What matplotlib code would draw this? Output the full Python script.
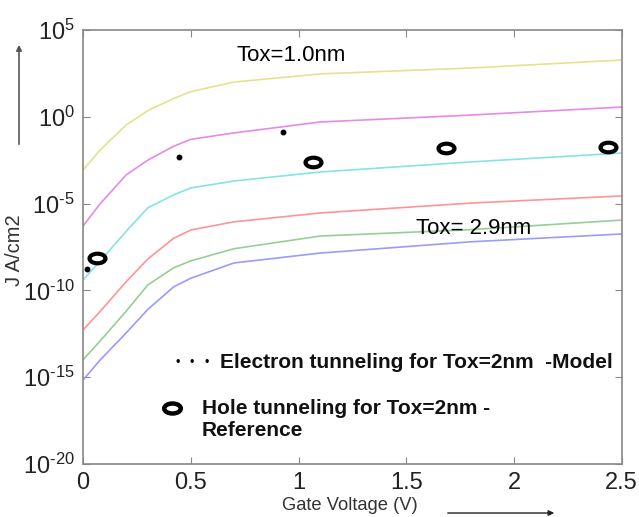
import numpy as np
import matplotlib
matplotlib.use("Agg")
import matplotlib.pyplot as plt
from matplotlib.path import Path
from matplotlib.transforms import Affine2D

plt.rcParams['font.family'] = ['Liberation Sans', 'DejaVu Sans']
plt.rcParams['mathtext.fontset'] = 'custom'
plt.rcParams['mathtext.rm'] = 'Liberation Sans'
plt.rcParams['mathtext.it'] = 'Liberation Sans'

## Gate voltage grid for the model curves
V = [0.0, 0.08, 0.2, 0.3, 0.42, 0.5, 0.7, 1.1, 1.8, 2.5]

## log10(J), one list per oxide thickness
logJ_10 = [-3.06, -1.9, -0.47, 0.35, 1.05, 1.45, 2.0, 2.47, 2.81, 3.27]
logJ_15 = [-6.29, -5.0, -3.35, -2.5, -1.7, -1.3, -0.93, -0.30, 0.10, 0.56]
logJ_20 = [-9.4, -8.3, -6.6, -5.25, -4.5, -4.1, -3.7, -3.18, -2.6, -2.09]
logJ_24 = [-12.28, -11.2, -9.5, -8.2, -7.0, -6.52, -6.05, -5.54, -4.97, -4.56]
logJ_27 = [-14.0, -12.9, -11.2, -9.69, -8.7, -8.3, -7.6, -6.87, -6.5, -5.95]
logJ_29 = [-15.16, -14.0, -12.45, -11.1, -9.8, -9.3, -8.42, -7.85, -7.2, -6.75]

curve_colors = ['#e3e38c', '#e58ae8', '#86e3e3', '#ff9494', '#95cf95', '#9a9aff']

## Tox = 2nm points
elec_V = [0.018, 0.445, 0.927]
elec_logJ = [-8.77, -2.32, -0.87]
hole_V = [0.065, 1.067, 1.684, 2.435]
hole_logJ = [-8.13, -2.6, -1.80, -1.74]

yticks = [5, 0, -5, -10, -15, -20]
xticks = [0, 0.5, 1, 1.5, 2, 2.5]
xticklabels = ['0', '0.5', '1', '1.5', '2', '2.5']

fig = plt.figure(figsize=(6.39, 5.17), dpi=100)
ax = fig.add_axes([0.130, 0.1025, 0.843, 0.8395])

for lj, c in zip([logJ_10, logJ_15, logJ_20, logJ_24, logJ_27, logJ_29], curve_colors):
    ax.plot(V, 10.0 ** np.array(lj), color=c, lw=1.2)

# oval marker, wider than tall
oval = Path.unit_circle().transformed(Affine2D().scale(1.0, 0.6))

ax.plot(elec_V, 10.0 ** np.array(elec_logJ), ls='none', marker='o', ms=3.2, color='black')
ax.plot(hole_V, 10.0 ** np.array(hole_logJ), ls='none', marker=oval, ms=11.5,
        mfc='white', mec='black', mew=3.0)

ax.set_yscale('log')
ax.set_xlim(0, 2.5)
ax.set_ylim(1e-20, 1e5)
ax.set_yticks([10.0 ** t for t in yticks])
ax.set_yticklabels([r'$10^{\text{%d}}$' % t for t in yticks], fontsize=17, color='#222222')
ax.minorticks_off()
ax.set_xticks(xticks)
ax.set_xticklabels(xticklabels, fontsize=17, color='#222222')
ax.tick_params(direction='in', top=True, right=True, length=5, color='#888888', pad=6)
for s in ax.spines.values():
    s.set_color('#888888')
    s.set_linewidth(1.2)

## curve annotations
ax.text(0.284, 0.942, 'Tox=1.0nm', transform=ax.transAxes, fontsize=16, va='center')
ax.text(0.618, 0.542, 'Tox= 2.9nm', transform=ax.transAxes, fontsize=16, va='center')

## hand drawn legend
for lx in [178, 192, 207]:
    fig.text(lx / 639, 1 - 363 / 517, '\u2022', fontsize=9, ha='center', va='center')
fig.text(220 / 639, 1 - 362 / 517, 'Electron tunneling for Tox=2nm  -Model',
         fontsize=15, va='center', fontweight='bold', color='#111111')
ax.plot([172 / 639], [1 - 408 / 517], transform=fig.transFigure, marker=oval, ms=12,
        mfc='white', mec='black', mew=3.2, clip_on=False)
fig.text(202 / 639, 1 - 408 / 517, 'Hole tunneling for Tox=2nm -',
         fontsize=15, va='center', fontweight='bold', color='#111111')
fig.text(202 / 639, 1 - 431 / 517, 'Reference',
         fontsize=15, va='center', fontweight='bold', color='#111111')

## axis labels and arrows
fig.text(15 / 639, 1 - 250 / 517, 'J A/cm2', rotation=90, fontsize=14.5,
         ha='center', va='center', color='#333333')
fig.text(350 / 639, 1 - 506 / 517, 'Gate Voltage (V)', fontsize=13.2,
         ha='center', va='center', color='#333333')
fig.patches.append(matplotlib.patches.FancyArrowPatch(
    (19 / 639, 1 - 147 / 517), (19 / 639, 1 - 42 / 517), transform=fig.transFigure,
    arrowstyle='-|>', mutation_scale=8, color='#555555', lw=1.2))
fig.patches.append(matplotlib.patches.FancyArrowPatch(
    (445 / 639, 1 - 513 / 517), (557 / 639, 1 - 513 / 517), transform=fig.transFigure,
    arrowstyle='-|>', mutation_scale=8, color='#222222', lw=1.0))

plt.savefig('out.png', dpi=100)
